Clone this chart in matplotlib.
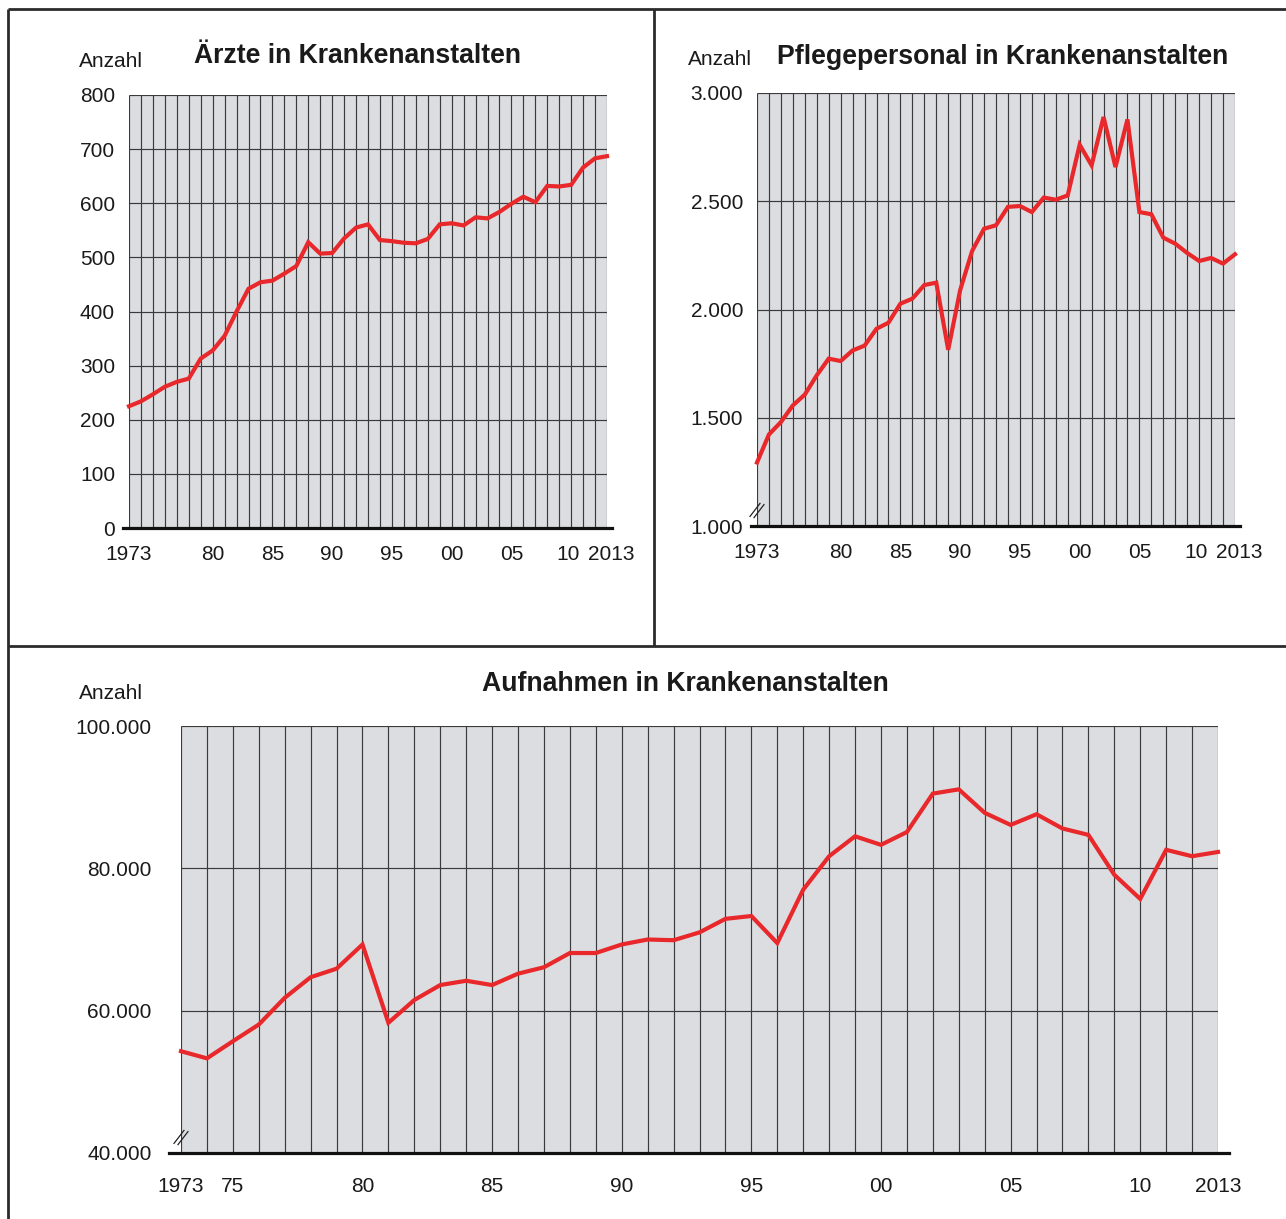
import matplotlib
matplotlib.use("Agg")
from matplotlib import pyplot as plt
from matplotlib.lines import Line2D
from matplotlib.transforms import ScaledTranslation

plt.rcParams['font.family'] = ['Liberation Sans', 'DejaVu Sans']

W, H = 1286, 1219

years = list(range(1973, 2014))

# Ärzte in Krankenanstalten
aerzte = [225, 234, 247, 261, 270, 276, 313, 328, 355, 400,
          442, 454, 457, 470, 484, 528, 507, 508, 535, 555,
          561, 532, 530, 527, 526, 534, 561, 563, 559, 574,
          572, 584, 599, 612, 602, 632, 631, 634, 666, 683, 687]

# Pflegepersonal in Krankenanstalten
pflege = [1293, 1423, 1480, 1557, 1607, 1696, 1773, 1762, 1811, 1833,
          1911, 1939, 2027, 2050, 2113, 2124, 1814, 2089, 2270, 2373,
          2389, 2474, 2478, 2450, 2517, 2507, 2527, 2761, 2666, 2889,
          2658, 2878, 2450, 2440, 2332, 2304, 2261, 2224, 2238, 2212, 2255]

# Aufnahmen in Krankenanstalten
aufnahmen = [54300, 53300, 55700, 58050, 61800, 64700, 65900, 69300, 58300, 61500,
             63600, 64200, 63600, 65200, 66100, 68100, 68100, 69300, 70000, 69900,
             71000, 72900, 73300, 69500, 77000, 81700, 84500, 83300, 85100, 90500,
             91100, 87800, 86100, 87600, 85600, 84700, 79100, 75700, 82600, 81700, 82300]

ticks_small = [1973, 1980, 1985, 1990, 1995, 2000, 2005, 2010, 2013]
labels_small = ['1973', '80', '85', '90', '95', '00', '05', '10', '2013']
ticks_big = [1973, 1975, 1980, 1985, 1990, 1995, 2000, 2005, 2010, 2013]
labels_big = ['1973', '75', '80', '85', '90', '95', '00', '05', '10', '2013']

y1 = list(range(0, 801, 100))
y2 = [1000, 1500, 2000, 2500, 3000]
y3 = [40000, 60000, 80000, 100000]

RED = '#e8282b'
GREY = '#dcdde0'
GRID = '#3a3a3a'
TXT = '#1a1a1a'

fig = plt.figure(figsize=(W / 100, H / 100), dpi=100)


def px_axes(left, top, right, bottom):
    return fig.add_axes([left / W, 1 - bottom / H, (right - left) / W, (bottom - top) / H])


def fmt(v):
    return f'{v:,}'.replace(',', '.')


def draw_panel(ax, values, yt, xt, xl, xpad, ypad, axis_break=False):
    ax.set_facecolor(GREY)
    ax.set_xlim(years[0], years[-1])
    ax.set_ylim(yt[0], yt[-1])
    ax.vlines(years, yt[0], yt[-1], color=GRID, lw=0.85, zorder=1)
    ax.hlines(yt[1:], years[0], years[-1], color=GRID, lw=0.85, zorder=1)
    ax.plot(years, values, color=RED, lw=3.0, zorder=3, clip_on=False,
            solid_joinstyle='miter')
    for s in ax.spines.values():
        s.set_visible(False)
    # thick base line, a bit wider than the plot
    ax.add_line(Line2D([-0.012, 1.011], [0, 0], transform=ax.transAxes,
                       color='#111111', lw=2.3, clip_on=False, zorder=4))
    ax.set_xticks(xt)
    ax.set_xticklabels(xl)
    ax.set_yticks(yt)
    ax.set_yticklabels([fmt(v) for v in yt])
    ax.tick_params(axis='x', length=0, pad=xpad, labelsize=15, labelcolor=TXT)
    ax.tick_params(axis='y', length=0, pad=ypad, labelsize=15, labelcolor=TXT)
    if axis_break:
        bb = ax.get_position()
        aw, ah = bb.width * W, bb.height * H
        for off in (-2.0, 2.0):
            ax.add_line(Line2D([(-5 + off) / aw, (5 + off) / aw], [(9 - off * 0.3) / ah, (22 - off * 0.3) / ah],
                               transform=ax.transAxes, color='#222222', lw=0.9,
                               clip_on=False, zorder=5))


def spread_last_labels(ax):
    # the '10' and '2013' labels sit a little apart in the original
    labs = ax.get_xticklabels()
    labs[-2].set_transform(labs[-2].get_transform() + ScaledTranslation(-3 / 100, 0, fig.dpi_scale_trans))
    labs[-1].set_transform(labs[-1].get_transform() + ScaledTranslation(4 / 100, 0, fig.dpi_scale_trans))


ax1 = px_axes(129, 95, 607, 528)
draw_panel(ax1, aerzte, y1, ticks_small, labels_small, 12.5, 10)
spread_last_labels(ax1)

ax2 = px_axes(757, 93, 1235, 526)
draw_panel(ax2, pflege, y2, ticks_small, labels_small, 12.5, 10, axis_break=True)
spread_last_labels(ax2)

ax3 = px_axes(181, 726, 1218, 1153)
draw_panel(ax3, aufnahmen, y3, ticks_big, labels_big, 17, 21, axis_break=True)

# titles and unit labels
def ftext(x, y, s, **kw):
    fig.text(x / W, 1 - y / H, s, va='baseline', ha='left', color=TXT, **kw)


ftext(79, 67, 'Anzahl', fontsize=15)
ftext(194, 63, 'Ärzte in Krankenanstalten', fontsize=19.2, fontweight='bold')
ftext(688, 65, 'Anzahl', fontsize=15)
ftext(777, 64, 'Pflegepersonal in Krankenanstalten', fontsize=19.2, fontweight='bold')
ftext(79, 699, 'Anzahl', fontsize=15)
ftext(482, 691, 'Aufnahmen in Krankenanstalten', fontsize=19.2, fontweight='bold')

# frame lines around the panels
frame = dict(color='#2b2b2b', lw=2.0, solid_capstyle='butt')
fig.add_artist(Line2D([8 / W, 1], [1 - 9 / H, 1 - 9 / H], **frame))
fig.add_artist(Line2D([8 / W, 8 / W], [1 - 9 / H, 0], **frame))
fig.add_artist(Line2D([8 / W, 1], [1 - 646 / H, 1 - 646 / H], **frame))
fig.add_artist(Line2D([654 / W, 654 / W], [1 - 9 / H, 1 - 646 / H], **frame))

fig.savefig('out.png', dpi=100, facecolor='white')
